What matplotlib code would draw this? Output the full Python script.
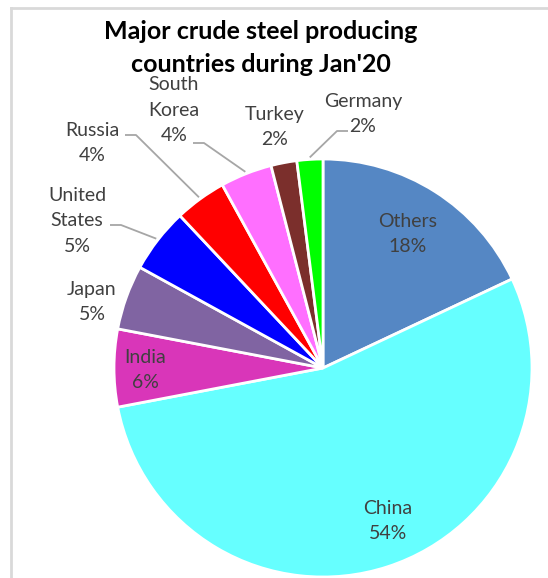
import numpy as np
import matplotlib
matplotlib.use("Agg")
import matplotlib.pyplot as plt
from matplotlib.lines import Line2D

# data (share of Jan'20 crude steel output, %)
countries = ["Others", "China", "India", "Japan", "United\nStates",
             "Russia", "South\nKorea", "Turkey", "Germany"]
shares = [18, 54, 6, 5, 5, 4, 4, 2, 2]
colors = ["#5587C4", "#66FFFF", "#D936B9", "#8064A2", "#0000FF",
          "#FF0000", "#FF6FFF", "#7B2F2C", "#00FF00"]

W, H = 548, 578
fig = plt.figure(figsize=(W / 100, H / 100), dpi=100)
ax = fig.add_axes([0, 0, 1, 1])

cx, cy, R = 323, H - 368, 209
wedges, _ = ax.pie(shares, colors=colors, startangle=90, counterclock=False,
                   center=(cx, cy), radius=R, frame=True,
                   wedgeprops=dict(edgecolor="white", linewidth=2))
ax.set_xlim(0, W)
ax.set_ylim(0, H)
ax.set_aspect("equal")
ax.axis("off")

# label placement (pixel coords from top-left), leader side: None / 'r' / 'l'
label_pos = {
    "Others": (408, 234, None),
    "China": (388, 521, None),
    "India": (145, 370, None),
    "Japan": (92, 302, None),
    "United\nStates": (77, 221, "r"),
    "Russia": (92, 143, "r"),
    "South\nKorea": (174, 110, "r"),
    "Turkey": (275, 127, None),
    "Germany": (363, 114, "l"),
}
leader_y = {"United\nStates": 225, "Russia": 135, "South\nKorea": 143, "Germany": 131}
leader_x = {"United\nStates": 110, "Russia": 125, "South\nKorea": 193, "Germany": 348}

txt_color = "#404040"
font = "Lato"
for w, name, val in zip(wedges, countries, shares):
    x, y, side = label_pos[name]
    ax.text(x, H - y, f"{name}\n{val}%", ha="center", va="center",
            color=txt_color, fontsize=14, family=font, linespacing=1.6)
    if side is not None:
        mid = np.deg2rad((w.theta1 + w.theta2) / 2)
        ex, ey = cx + (R + 2) * np.cos(mid), cy + (R + 2) * np.sin(mid)
        lx, ly = leader_x[name], H - leader_y[name]
        bx = lx + 11 if side == "r" else lx - 11
        ax.plot([lx, bx, ex], [ly, ly, ey], color="#A6A6A6", lw=1.3,
                solid_capstyle="butt")

ax.text(261, H - 48, "Major crude steel producing\ncountries during Jan'20",
        ha="center", va="center", fontsize=18, fontweight="bold",
        family=font, color="black", linespacing=1.5)

# chart-area border (top and left visible)
border = "#D9D9D9"
fig.add_artist(Line2D([11 / W, 1], [1 - 8 / H, 1 - 8 / H], color=border, lw=2,
                      transform=fig.transFigure))
fig.add_artist(Line2D([11 / W, 11 / W], [0, 1 - 8 / H], color=border, lw=2,
                      transform=fig.transFigure))

fig.savefig("out.png", dpi=100, facecolor="white")
